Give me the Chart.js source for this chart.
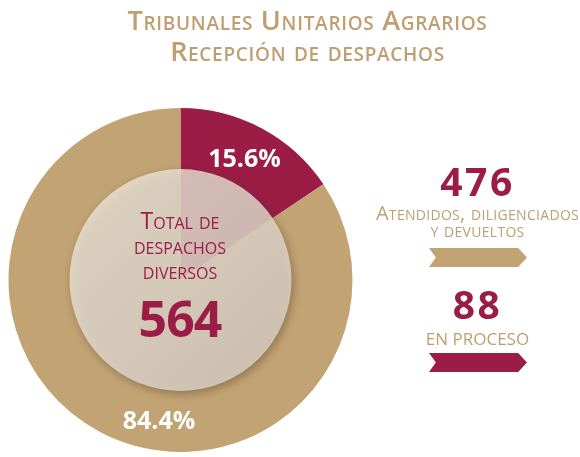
<!DOCTYPE html>
<html>
<head>
<meta charset="utf-8">
<script src="https://cdn.jsdelivr.net/npm/chart.js@4.4.1/dist/chart.umd.min.js"></script>
<style>
  body { margin: 0; background: #fff; }
  #wrap { position: relative; width: 580px; height: 457px; overflow: hidden; font-family: "Open Sans", sans-serif; }
  #chart { position: absolute; left: 0; top: 0; }
  .title { position: absolute; left: 0; width: 615px; text-align: center; color: #bf9f72;
    font-weight: 600; font-size: 27px; font-variant: small-caps; line-height: 30px; letter-spacing: 0.7px; }
  .center { position: absolute; left: 100px; width: 160px; text-align: center; color: #9b1d45; }
  .center.lbl { font-size: 23px; font-variant: small-caps; line-height: 25px; top: 208px; }
  .center.num { font-size: 50px; font-weight: 700; top: 288px; line-height: 60px; letter-spacing: -1px; }
  .side { position: absolute; left: 370px; width: 215px; text-align: center; }
  .side.num { color: #9b1d45; font-weight: 700; font-size: 39px; line-height: 40px; letter-spacing: 2.5px; }
  .side.lbl { color: #bf9f72; font-size: 20px; font-variant: small-caps; line-height: 17px; letter-spacing: 0.3px; }
  .side.caps { color: #bf9f72; font-size: 17px; line-height: 17px; }
  .arrow { position: absolute; left: 429px; width: 98px; height: 19px;
    clip-path: polygon(0 0, 91% 0, 100% 50%, 91% 100%, 0 100%, 7% 50%); }
</style>
</head>
<body>
<div id="wrap">
  <canvas id="chart" width="580" height="457"></canvas>
  <div class="title" style="top:5px;">Tribunales Unitarios Agrarios</div>
  <div class="title" style="top:36px;">Recepción de despachos</div>
  <div class="center lbl">Total de<br>despachos<br>diversos</div>
  <div class="center num" id="total"></div>
  <div class="side num" id="num0" style="top:161px;"></div>
  <div class="side lbl" style="top:204px;">Atendidos, diligenciados<br>y devueltos</div>
  <div class="arrow" style="top:248px; background:#c2a374;"></div>
  <div class="side num" id="num1" style="top:284px;"></div>
  <div class="side caps" style="top:330px;">EN PROCESO</div>
  <div class="arrow" style="top:353px; background:#9b1d45;"></div>
</div>
<script>
'use strict';

// slices drawn clockwise from 12 o'clock
const categories = ['En proceso', 'Atendidos, diligenciados y devueltos'];
const despachos = [88, 476];
const sliceColors = ['#9b1d45', '#c2a374'];

const total = despachos.reduce((a, b) => a + b, 0);
document.getElementById('total').textContent = total;
document.getElementById('num0').textContent = despachos[1];
document.getElementById('num1').textContent = despachos[0];

// light disc on top of the pie + percent labels
const overlayPlugin = {
    id: 'overlay',
    afterDatasetsDraw: function (chart) {
        const ctx = chart.ctx;
        const meta = chart.getDatasetMeta(0);
        const arc0 = meta.data[0];
        const cx = arc0.x, cy = arc0.y, R = arc0.outerRadius;
        const r = R * 0.645;

        ctx.save();
        ctx.shadowColor = 'rgba(60,40,20,0.45)';
        ctx.shadowBlur = 10;
        ctx.shadowOffsetX = 2;
        ctx.shadowOffsetY = 3;
        let grad = ctx.createLinearGradient(cx - r, cy - r, cx + r, cy + r);
        grad.addColorStop(0, 'rgba(242,234,222,0.78)');
        grad.addColorStop(1, 'rgba(212,202,192,0.85)');
        ctx.beginPath();
        ctx.arc(cx, cy, r, 0, Math.PI * 2);
        ctx.fillStyle = grad;
        ctx.fill();
        ctx.restore();

        // where each percent sits: fraction of the slice sweep, fraction of radius
        const frac = [0.5, 0.436];
        const rad = [0.79, 0.835];
        ctx.save();
        ctx.fillStyle = '#fff';
        ctx.font = 'bold 25px "Open Sans", sans-serif';
        ctx.textAlign = 'center';
        ctx.textBaseline = 'middle';
        meta.data.forEach(function (arc, i) {
            const a = arc.startAngle + (arc.endAngle - arc.startAngle) * frac[i];
            const rr = R * rad[i];
            const pct = (despachos[i] / total * 100).toFixed(1) + '%';
            ctx.fillText(pct, cx + Math.cos(a) * rr, cy + Math.sin(a) * rr);
        });
        ctx.restore();
    }
};

new Chart(document.getElementById('chart'), {
    type: 'pie',
    data: {
        labels: categories,
        datasets: [{
            data: despachos,
            backgroundColor: sliceColors,
            borderWidth: 0,
            hoverOffset: 0,
        }],
    },
    options: {
        responsive: false,
        animation: false,
        layout: { padding: { left: 8, right: 227, top: 108, bottom: 5 } },
        plugins: {
            legend: { display: false },
            tooltip: { enabled: false },
        },
    },
    plugins: [overlayPlugin],
});
</script>
</body>
</html>
